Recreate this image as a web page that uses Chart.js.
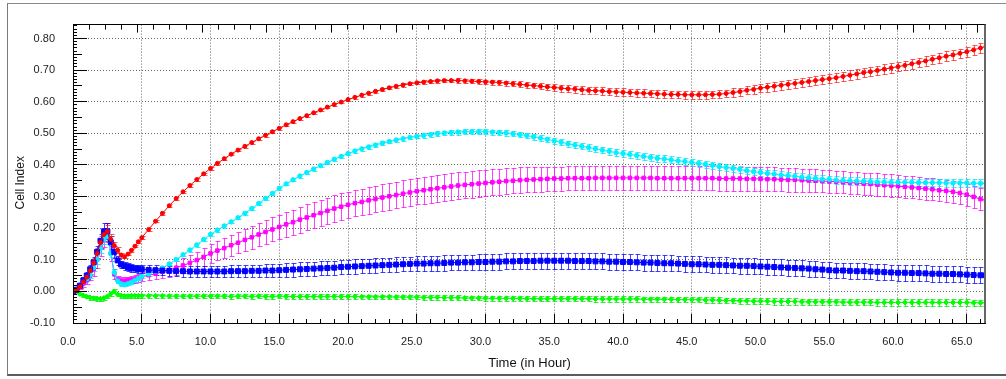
<!DOCTYPE html>
<html lang="en">
<head>
<meta charset="UTF-8">
<title>Cell Index</title>
<script src="https://cdn.jsdelivr.net/npm/chart.js"></script>
<style>
html, body { margin: 0; padding: 0; background: #fff; overflow: hidden; }
#wrap { position: relative; width: 1006px; height: 379px; }
#frame { position: absolute; left: 7px; top: 3px; width: 999px; height: 370px;
  border-top: 1px solid #8a8a8a; border-left: 1px solid #7a7a7a; border-bottom: 2px solid #5c5c5c; }
canvas { position: absolute; left: 0; top: 0; }
</style>
</head>
<body>
<div id="wrap">
  <div id="frame"></div>
  <canvas id="cellChart" width="1006" height="379"></canvas>
</div>
<script>
// time points (hours)
const hours = [0, 0.25, 0.5, 0.75, 1, 1.25, 1.5, 1.75, 2, 2.25, 2.5, 2.75, 3, 3.25, 3.5, 3.75, 4, 4.25, 4.5, 4.75, 5,
  5.5, 6, 6.5, 7, 7.5, 8, 8.5, 9, 9.5, 10,
  10.5, 11, 11.5, 12, 12.5, 13, 13.5, 14, 14.5, 15,
  15.5, 16, 16.5, 17, 17.5, 18, 18.5, 19, 19.5, 20,
  20.5, 21, 21.5, 22, 22.5, 23, 23.5, 24, 24.5, 25,
  25.5, 26, 26.5, 27, 27.5, 28, 28.5, 29, 29.5, 30,
  30.5, 31, 31.5, 32, 32.5, 33, 33.5, 34, 34.5, 35,
  35.5, 36, 36.5, 37, 37.5, 38, 38.5, 39, 39.5, 40,
  40.5, 41, 41.5, 42, 42.5, 43, 43.5, 44, 44.5, 45,
  45.5, 46, 46.5, 47, 47.5, 48, 48.5, 49, 49.5, 50,
  50.5, 51, 51.5, 52, 52.5, 53, 53.5, 54, 54.5, 55,
  55.5, 56, 56.5, 57, 57.5, 58, 58.5, 59, 59.5, 60,
  60.5, 61, 61.5, 62, 62.5, 63, 63.5, 64, 64.5, 65,
  65.5, 66, 66.4];

const red = [0, 0.005, 0.015, 0.03, 0.045, 0.065, 0.09, 0.12, 0.155, 0.18, 0.19, 0.165, 0.145, 0.13, 0.115, 0.11, 0.118, 0.13, 0.143, 0.157, 0.17,
  0.196, 0.222, 0.247, 0.271, 0.294, 0.315, 0.335, 0.354, 0.372, 0.389,
  0.405, 0.420, 0.434, 0.447, 0.459, 0.471, 0.483, 0.494, 0.505, 0.516,
  0.527, 0.537, 0.547, 0.556, 0.565, 0.574, 0.583, 0.591, 0.599, 0.607,
  0.614, 0.621, 0.627, 0.633, 0.639, 0.644, 0.649, 0.653, 0.657, 0.660,
  0.662, 0.664, 0.666, 0.667, 0.667, 0.667, 0.666, 0.665, 0.664, 0.663,
  0.662, 0.661, 0.659, 0.657, 0.655, 0.653, 0.651, 0.649, 0.647, 0.645,
  0.643, 0.641, 0.640, 0.638, 0.636, 0.635, 0.634, 0.632, 0.631, 0.630,
  0.629, 0.628, 0.627, 0.626, 0.625, 0.624, 0.623, 0.623, 0.622, 0.622,
  0.622, 0.622, 0.623, 0.624, 0.626, 0.629, 0.632, 0.636, 0.639, 0.643,
  0.646, 0.649, 0.652, 0.655, 0.658, 0.661, 0.664, 0.667, 0.670, 0.673,
  0.676, 0.680, 0.684, 0.688, 0.692, 0.695, 0.699, 0.703, 0.707, 0.711,
  0.715, 0.720, 0.724, 0.729, 0.734, 0.739, 0.744, 0.748, 0.753, 0.758,
  0.764, 0.770, 0.775];
const redErr = [0, 0.003, 0.005, 0.008, 0.01, 0.012, 0.015, 0.018, 0.02, 0.02, 0.02, 0.015, 0.012, 0.01, 0.008, 0.005, 0.004, 0.004, 0.004, 0.004, 0.004,
  0.004, 0.004, 0.004, 0.004, 0.004, 0.004, 0.004, 0.004, 0.004, 0.004,
  0.004, 0.004, 0.004, 0.004, 0.004, 0.004, 0.004, 0.004, 0.004, 0.004,
  0.004, 0.004, 0.004, 0.004, 0.004, 0.004, 0.004, 0.004, 0.004, 0.004,
  0.005, 0.005, 0.005, 0.005, 0.005, 0.005, 0.005, 0.005, 0.005, 0.005,
  0.006, 0.006, 0.006, 0.006, 0.006, 0.007, 0.007, 0.007, 0.007, 0.007,
  0.008, 0.008, 0.008, 0.008, 0.009, 0.009, 0.009, 0.010, 0.010, 0.010,
  0.011, 0.011, 0.011, 0.012, 0.012, 0.012, 0.012, 0.012, 0.012, 0.012,
  0.012, 0.012, 0.012, 0.012, 0.012, 0.012, 0.012, 0.012, 0.012, 0.012,
  0.012, 0.012, 0.012, 0.012, 0.012, 0.013, 0.013, 0.013, 0.013, 0.013,
  0.014, 0.014, 0.014, 0.014, 0.014, 0.014, 0.014, 0.014, 0.014, 0.014,
  0.015, 0.015, 0.015, 0.015, 0.015, 0.015, 0.015, 0.015, 0.015, 0.015,
  0.015, 0.015, 0.015, 0.015, 0.015, 0.015, 0.015, 0.015, 0.015, 0.015,
  0.015, 0.015, 0.015];

const blue = [0, 0.005, 0.018, 0.035, 0.05, 0.07, 0.092, 0.125, 0.16, 0.19, 0.19, 0.155, 0.125, 0.098, 0.085, 0.08, 0.077, 0.074, 0.072, 0.071, 0.070,
  0.068, 0.067, 0.066, 0.065, 0.064, 0.064, 0.063, 0.063, 0.063, 0.063,
  0.063, 0.063, 0.064, 0.064, 0.064, 0.065, 0.065, 0.066, 0.066, 0.067,
  0.068, 0.069, 0.070, 0.071, 0.072, 0.073, 0.074, 0.075, 0.077, 0.078,
  0.079, 0.080, 0.081, 0.082, 0.083, 0.084, 0.085, 0.086, 0.087, 0.088,
  0.088, 0.089, 0.089, 0.090, 0.091, 0.091, 0.092, 0.092, 0.093, 0.093,
  0.094, 0.094, 0.095, 0.095, 0.096, 0.096, 0.096, 0.097, 0.097, 0.097,
  0.097, 0.097, 0.096, 0.096, 0.096, 0.095, 0.095, 0.094, 0.094, 0.093,
  0.093, 0.092, 0.091, 0.091, 0.090, 0.089, 0.089, 0.088, 0.087, 0.086,
  0.086, 0.085, 0.084, 0.084, 0.083, 0.082, 0.081, 0.081, 0.080, 0.079,
  0.078, 0.077, 0.076, 0.075, 0.074, 0.073, 0.072, 0.070, 0.069, 0.067,
  0.066, 0.066, 0.065, 0.064, 0.064, 0.063, 0.062, 0.061, 0.060, 0.059,
  0.059, 0.058, 0.058, 0.057, 0.056, 0.056, 0.055, 0.055, 0.054, 0.053,
  0.052, 0.051, 0.051];
const blueErr = [0, 0.003, 0.006, 0.01, 0.012, 0.015, 0.018, 0.02, 0.022, 0.025, 0.025, 0.02, 0.018, 0.015, 0.012, 0.012, 0.012, 0.012, 0.012, 0.012, 0.013,
  0.014, 0.015, 0.015, 0.016, 0.016, 0.017, 0.017, 0.018, 0.018, 0.018,
  0.018, 0.018, 0.019, 0.019, 0.019, 0.020, 0.020, 0.020, 0.021, 0.021,
  0.022, 0.022, 0.022, 0.022, 0.022, 0.022, 0.022, 0.022, 0.022, 0.022,
  0.023, 0.023, 0.023, 0.023, 0.023, 0.023, 0.023, 0.023, 0.023, 0.023,
  0.024, 0.024, 0.024, 0.024, 0.024, 0.024, 0.024, 0.024, 0.024, 0.024,
  0.025, 0.025, 0.025, 0.025, 0.025, 0.025, 0.025, 0.025, 0.025, 0.025,
  0.025, 0.025, 0.025, 0.025, 0.025, 0.025, 0.025, 0.025, 0.025, 0.025,
  0.025, 0.025, 0.025, 0.025, 0.025, 0.025, 0.025, 0.025, 0.025, 0.025,
  0.025, 0.025, 0.025, 0.025, 0.025, 0.025, 0.025, 0.025, 0.025, 0.025,
  0.025, 0.025, 0.025, 0.025, 0.025, 0.025, 0.025, 0.025, 0.025, 0.025,
  0.025, 0.025, 0.025, 0.025, 0.025, 0.025, 0.025, 0.025, 0.025, 0.025,
  0.025, 0.025, 0.025, 0.025, 0.025, 0.025, 0.025, 0.025, 0.025, 0.025,
  0.025, 0.025, 0.025];

const cyan = [0, 0.008, 0.02, 0.03, 0.04, 0.052, 0.075, 0.1, 0.135, 0.165, 0.175, 0.12, 0.06, 0.033, 0.024, 0.021, 0.024, 0.029, 0.035, 0.041, 0.047,
  0.055, 0.064, 0.074, 0.087, 0.101, 0.116, 0.131, 0.147, 0.164, 0.180,
  0.194, 0.207, 0.220, 0.233, 0.247, 0.262, 0.278, 0.294, 0.310, 0.326,
  0.340, 0.353, 0.365, 0.376, 0.387, 0.398, 0.408, 0.418, 0.427, 0.436,
  0.444, 0.451, 0.457, 0.463, 0.469, 0.474, 0.479, 0.483, 0.487, 0.490,
  0.493, 0.496, 0.499, 0.501, 0.503, 0.504, 0.505, 0.505, 0.505, 0.505,
  0.504, 0.503, 0.501, 0.499, 0.496, 0.493, 0.489, 0.485, 0.481, 0.476,
  0.472, 0.467, 0.463, 0.459, 0.455, 0.451, 0.447, 0.443, 0.439, 0.436,
  0.433, 0.430, 0.427, 0.424, 0.421, 0.419, 0.416, 0.413, 0.411, 0.408,
  0.405, 0.402, 0.399, 0.395, 0.392, 0.389, 0.386, 0.382, 0.379, 0.376,
  0.373, 0.371, 0.368, 0.366, 0.364, 0.361, 0.359, 0.357, 0.355, 0.354,
  0.352, 0.351, 0.350, 0.349, 0.348, 0.347, 0.346, 0.346, 0.345, 0.345,
  0.345, 0.345, 0.344, 0.344, 0.344, 0.344, 0.343, 0.343, 0.343, 0.343,
  0.342, 0.342, 0.342];
const cyanErr = [0, 0.003, 0.005, 0.006, 0.008, 0.01, 0.012, 0.014, 0.015, 0.015, 0.015, 0.012, 0.01, 0.008, 0.006, 0.005, 0.005, 0.005, 0.005, 0.005, 0.005,
  0.005, 0.005, 0.005, 0.005, 0.005, 0.005, 0.005, 0.005, 0.005, 0.005,
  0.005, 0.005, 0.005, 0.005, 0.005, 0.005, 0.005, 0.005, 0.005, 0.005,
  0.005, 0.005, 0.005, 0.005, 0.005, 0.005, 0.005, 0.005, 0.005, 0.005,
  0.006, 0.006, 0.006, 0.006, 0.006, 0.006, 0.006, 0.006, 0.006, 0.006,
  0.007, 0.007, 0.007, 0.007, 0.007, 0.008, 0.008, 0.008, 0.008, 0.008,
  0.008, 0.008, 0.008, 0.008, 0.008, 0.009, 0.009, 0.009, 0.009, 0.009,
  0.009, 0.009, 0.009, 0.010, 0.010, 0.010, 0.010, 0.010, 0.010, 0.010,
  0.010, 0.010, 0.011, 0.011, 0.011, 0.011, 0.011, 0.011, 0.011, 0.011,
  0.011, 0.011, 0.011, 0.011, 0.011, 0.012, 0.012, 0.012, 0.012, 0.012,
  0.012, 0.012, 0.012, 0.012, 0.012, 0.012, 0.012, 0.012, 0.012, 0.012,
  0.012, 0.012, 0.012, 0.012, 0.012, 0.012, 0.012, 0.012, 0.012, 0.012,
  0.012, 0.012, 0.012, 0.012, 0.012, 0.012, 0.012, 0.012, 0.012, 0.012,
  0.012, 0.012, 0.012];

const magenta = [0, 0.005, 0.015, 0.025, 0.035, 0.05, 0.07, 0.1, 0.14, 0.17, 0.185, 0.12, 0.055, 0.038, 0.034, 0.034, 0.035, 0.037, 0.04, 0.043, 0.046,
  0.051, 0.056, 0.062, 0.068, 0.075, 0.082, 0.090, 0.099, 0.109, 0.120,
  0.129, 0.137, 0.146, 0.154, 0.163, 0.171, 0.180, 0.188, 0.196, 0.204,
  0.212, 0.219, 0.227, 0.234, 0.241, 0.248, 0.255, 0.262, 0.268, 0.274,
  0.279, 0.283, 0.288, 0.292, 0.297, 0.301, 0.305, 0.309, 0.313, 0.317,
  0.320, 0.323, 0.326, 0.329, 0.332, 0.335, 0.337, 0.339, 0.341, 0.343,
  0.345, 0.347, 0.349, 0.350, 0.352, 0.353, 0.354, 0.355, 0.356, 0.357,
  0.357, 0.358, 0.358, 0.358, 0.358, 0.359, 0.359, 0.359, 0.359, 0.359,
  0.359, 0.359, 0.359, 0.359, 0.358, 0.358, 0.358, 0.358, 0.358, 0.358,
  0.358, 0.358, 0.358, 0.357, 0.357, 0.357, 0.357, 0.356, 0.356, 0.356,
  0.355, 0.355, 0.354, 0.353, 0.353, 0.352, 0.351, 0.350, 0.349, 0.348,
  0.347, 0.345, 0.344, 0.343, 0.341, 0.340, 0.338, 0.336, 0.335, 0.333,
  0.331, 0.329, 0.327, 0.325, 0.323, 0.320, 0.318, 0.315, 0.311, 0.306,
  0.299, 0.292, 0.288];
const magentaErr = [0, 0.004, 0.008, 0.01, 0.012, 0.015, 0.02, 0.025, 0.028, 0.03, 0.03, 0.025, 0.015, 0.012, 0.01, 0.01, 0.01, 0.011, 0.012, 0.013, 0.014,
  0.016, 0.018, 0.019, 0.021, 0.022, 0.024, 0.025, 0.027, 0.028, 0.030,
  0.031, 0.032, 0.033, 0.034, 0.035, 0.036, 0.037, 0.038, 0.038, 0.039,
  0.040, 0.040, 0.041, 0.041, 0.041, 0.042, 0.042, 0.042, 0.042, 0.042,
  0.042, 0.042, 0.042, 0.042, 0.042, 0.042, 0.042, 0.042, 0.042, 0.042,
  0.042, 0.042, 0.042, 0.042, 0.042, 0.042, 0.042, 0.042, 0.042, 0.042,
  0.041, 0.041, 0.041, 0.040, 0.040, 0.040, 0.039, 0.039, 0.039, 0.038,
  0.038, 0.038, 0.038, 0.038, 0.038, 0.038, 0.038, 0.038, 0.038, 0.038,
  0.038, 0.038, 0.038, 0.038, 0.038, 0.038, 0.038, 0.038, 0.038, 0.038,
  0.038, 0.038, 0.038, 0.038, 0.038, 0.038, 0.038, 0.038, 0.038, 0.038,
  0.037, 0.037, 0.037, 0.037, 0.037, 0.036, 0.036, 0.036, 0.036, 0.036,
  0.035, 0.035, 0.035, 0.035, 0.035, 0.035, 0.035, 0.035, 0.035, 0.035,
  0.035, 0.035, 0.035, 0.035, 0.035, 0.035, 0.035, 0.035, 0.035, 0.035,
  0.035, 0.035, 0.035];

const green = [0, -0.002, -0.008, -0.013, -0.017, -0.02, -0.022, -0.023, -0.023, -0.021, -0.016, -0.008, 0.0, -0.01, -0.014, -0.015, -0.015, -0.014, -0.014, -0.014, -0.014,
  -0.014, -0.014, -0.014, -0.015, -0.015, -0.015, -0.015, -0.015, -0.015, -0.015,
  -0.015, -0.015, -0.016, -0.015, -0.015, -0.016, -0.015, -0.016, -0.016, -0.015,
  -0.016, -0.016, -0.016, -0.016, -0.016, -0.016, -0.016, -0.016, -0.016, -0.016,
  -0.016, -0.017, -0.017, -0.017, -0.017, -0.017, -0.018, -0.018, -0.018, -0.018,
  -0.019, -0.019, -0.019, -0.020, -0.020, -0.020, -0.021, -0.021, -0.021, -0.022,
  -0.022, -0.022, -0.022, -0.022, -0.022, -0.023, -0.023, -0.023, -0.023, -0.023,
  -0.023, -0.023, -0.023, -0.023, -0.023, -0.024, -0.024, -0.024, -0.024, -0.024,
  -0.024, -0.024, -0.025, -0.025, -0.025, -0.025, -0.025, -0.026, -0.026, -0.026,
  -0.026, -0.027, -0.027, -0.028, -0.029, -0.029, -0.030, -0.030, -0.031, -0.031,
  -0.031, -0.032, -0.032, -0.032, -0.032, -0.033, -0.033, -0.033, -0.033, -0.033,
  -0.033, -0.034, -0.034, -0.034, -0.034, -0.034, -0.035, -0.035, -0.035, -0.035,
  -0.035, -0.035, -0.035, -0.035, -0.035, -0.035, -0.035, -0.035, -0.035, -0.035,
  -0.036, -0.036, -0.036];
const greenErr = [0, 0.003, 0.004, 0.005, 0.005, 0.006, 0.006, 0.006, 0.006, 0.006, 0.006, 0.006, 0.006, 0.006, 0.006, 0.006, 0.006, 0.006, 0.006, 0.006, 0.006,
  0.007, 0.007, 0.007, 0.007, 0.007, 0.007, 0.007, 0.007, 0.007, 0.007,
  0.007, 0.007, 0.007, 0.007, 0.007, 0.007, 0.007, 0.007, 0.007, 0.007,
  0.007, 0.007, 0.007, 0.007, 0.007, 0.007, 0.007, 0.007, 0.007, 0.007,
  0.007, 0.007, 0.007, 0.007, 0.007, 0.007, 0.007, 0.007, 0.007, 0.007,
  0.007, 0.007, 0.007, 0.007, 0.007, 0.007, 0.007, 0.007, 0.007, 0.007,
  0.008, 0.008, 0.008, 0.008, 0.008, 0.008, 0.008, 0.008, 0.008, 0.008,
  0.008, 0.008, 0.008, 0.008, 0.008, 0.008, 0.008, 0.008, 0.008, 0.008,
  0.008, 0.008, 0.008, 0.008, 0.008, 0.008, 0.008, 0.008, 0.008, 0.008,
  0.009, 0.009, 0.009, 0.009, 0.009, 0.009, 0.009, 0.009, 0.009, 0.009,
  0.010, 0.010, 0.010, 0.010, 0.010, 0.010, 0.010, 0.010, 0.010, 0.010,
  0.010, 0.010, 0.010, 0.010, 0.010, 0.010, 0.010, 0.010, 0.010, 0.010,
  0.010, 0.010, 0.010, 0.010, 0.010, 0.010, 0.010, 0.010, 0.010, 0.010,
  0.010, 0.010, 0.010];

const FONT = "'Liberation Sans', Arial, sans-serif";
Chart.defaults.font.family = FONT;
Chart.defaults.font.size = 11;
Chart.defaults.color = '#222';

function series(label, values, errors, color, errColor, style, radius) {
    return {
        label: label,
        data: values,
        err: errors,
        errColor: errColor,
        xAxisID: 'x',
        yAxisID: 'y',
        borderColor: color,
        backgroundColor: color,
        borderWidth: 1,
        pointStyle: style,
        pointRadius: radius,
        pointBorderWidth: 1,
        pointBackgroundColor: color,
        pointBorderColor: color,
        fill: false
    };
}

// vertical error bars, drawn under the lines
const errorBars = {
    id: 'errorBars',
    beforeDatasetsDraw(chart) {
        const { ctx, chartArea: a, scales: { y } } = chart;
        ctx.save();
        ctx.beginPath();
        ctx.rect(a.left, a.top, a.right - a.left, a.bottom - a.top);
        ctx.clip();
        ctx.lineWidth = 1;
        for (let i = chart.data.datasets.length - 1; i >= 0; i--) {
            const ds = chart.data.datasets[i];
            const meta = chart.getDatasetMeta(i);
            ctx.strokeStyle = ds.errColor;
            ctx.beginPath();
            meta.data.forEach((pt, j) => {
                const e = ds.err[j];
                if (!e) return;
                const x = Math.round(pt.x) + 0.5;
                const top = Math.round(y.getPixelForValue(ds.data[j] + e)) + 0.5;
                const bot = Math.round(y.getPixelForValue(ds.data[j] - e)) + 0.5;
                ctx.moveTo(x, top); ctx.lineTo(x, bot);
                ctx.moveTo(x - 2, top); ctx.lineTo(x + 3, top);
                ctx.moveTo(x - 2, bot); ctx.lineTo(x + 3, bot);
            });
            ctx.stroke();
        }
        ctx.restore();
    }
};

// inward tick marks, plot border and rotated y title
const axisFrame = {
    id: 'axisFrame',
    afterDatasetsDraw(chart) {
        const { ctx, chartArea: a, scales: { x, x2, y } } = chart;
        const al = p => Math.round(p - 0.5) + 0.5;
        ctx.save();
        ctx.strokeStyle = '#000';
        ctx.lineWidth = 1;
        ctx.beginPath();
        for (let h = 0; h <= 66; h++) {
            const px = al(x.getPixelForValue(h));
            ctx.moveTo(px, a.bottom); ctx.lineTo(px, a.bottom - (h % 5 === 0 ? 9 : 4));
        }
        for (let k = 0; k <= 56; k++) {
            const px = al(x2.getPixelForValue(k));
            ctx.moveTo(px, a.top); ctx.lineTo(px, a.top + (k % 4 === 0 ? 8 : 5));
        }
        for (let k = -10; k <= 84; k++) {
            const py = al(y.getPixelForValue(k / 100));
            const len = k % 10 === 0 ? 14 : (k % 5 === 0 ? 9 : 4);
            ctx.moveTo(a.left, py); ctx.lineTo(a.left + len, py);
        }
        ctx.stroke();

        ctx.beginPath();
        ctx.moveTo(al(a.left), a.top); ctx.lineTo(al(a.left), a.bottom);
        ctx.moveTo(a.left, al(a.bottom)); ctx.lineTo(a.right, al(a.bottom));
        ctx.moveTo(a.left, al(a.top)); ctx.lineTo(a.right, al(a.top));
        ctx.stroke();
        ctx.strokeStyle = '#666';
        ctx.lineWidth = 2;
        ctx.beginPath();
        ctx.moveTo(a.right - 1, a.top); ctx.lineTo(a.right - 1, a.bottom);
        ctx.stroke();

        ctx.translate(21, (a.top + a.bottom) / 2 + 9);
        ctx.rotate(-Math.PI / 2);
        ctx.font = '12px ' + FONT;
        ctx.fillStyle = '#111';
        ctx.textAlign = 'center';
        ctx.textBaseline = 'middle';
        ctx.fillText('Cell Index', 0, 0);
        ctx.restore();
    }
};

new Chart(document.getElementById('cellChart').getContext('2d'), {
    type: 'line',
    data: {
        labels: hours,
        datasets: [
            series('Red', red, redErr, '#ff0000', 'rgba(255,30,30,0.75)', 'circle', 2),
            series('Blue', blue, blueErr, '#0000ff', 'rgba(0,0,255,0.75)', 'rect', 3.5),
            series('Cyan', cyan, cyanErr, '#00f0ff', 'rgba(0,225,245,0.75)', 'circle', 2.2),
            series('Magenta', magenta, magentaErr, '#ff00ff', 'rgba(255,0,255,0.75)', 'rect', 2.5),
            series('Green', green, greenErr, '#00ff00', 'rgba(0,230,0,0.75)', 'rectRot', 2.5)
        ]
    },
    options: {
        responsive: false,
        animation: false,
        layout: { padding: { left: 0, top: 11, right: 20, bottom: 0 } },
        plugins: { legend: { display: false }, tooltip: { enabled: false } },
        scales: {
            x: {
                type: 'linear', position: 'bottom', min: 0, max: 66.4,
                afterFit: s => { s.height = 56; },
                ticks: { stepSize: 5, includeBounds: false, padding: 12, labelOffset: -5, maxRotation: 0,
                    callback: v => v.toFixed(1) },
                grid: { drawTicks: false, color: c => (c.tick && c.tick.value === 0) ? 'rgba(0,0,0,0)' : '#666' },
                border: { display: false, dash: [1, 2] },
                title: { display: true, text: 'Time (in Hour)', color: '#111', font: { size: 13 },
                    padding: { top: 0, bottom: 8 } }
            },
            x2: {
                type: 'linear', position: 'top', min: 0, max: 56.5,
                afterFit: s => { s.height = 0; },
                ticks: { display: false },
                grid: { display: false },
                border: { display: false }
            },
            y: {
                type: 'linear', position: 'left', min: -0.1, max: 0.844,
                afterFit: s => { s.width = 73; },
                ticks: { stepSize: 0.1, includeBounds: false, padding: 18, callback: v => v.toFixed(2) },
                grid: { drawTicks: false,
                    color: c => (c.tick && Math.abs(c.tick.value + 0.1) < 1e-6) ? 'rgba(0,0,0,0)' : '#666' },
                border: { display: false, dash: [1, 2] }
            }
        }
    },
    plugins: [errorBars, axisFrame]
});
</script>
</body>
</html>
